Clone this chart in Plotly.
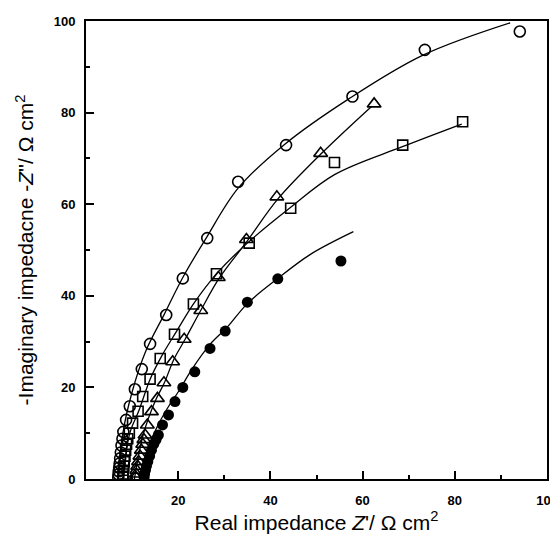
import plotly.graph_objects as go

# ---- data ----
circ_x = [7.0, 7.05, 7.1, 7.2, 7.3, 7.4, 7.55, 7.7, 7.9, 8.1, 8.7, 9.5, 10.6, 12.1, 13.9,
          17.4, 21.0, 26.3, 33.0, 43.4, 57.8, 73.5, 94.1]
circ_y = [0.4, 1.0, 1.7, 2.5, 3.4, 4.5, 5.8, 7.3, 8.8, 10.3, 12.9, 15.9, 19.6, 24.0, 29.5,
          35.8, 43.8, 52.6, 64.9, 72.9, 83.5, 93.7, 97.7]

sq_x = [8.0, 8.05, 8.1, 8.2, 8.3, 8.45, 8.6, 8.8, 9.05, 9.4, 10.1, 11.3, 12.3, 13.9, 16.1,
        19.2, 23.3, 28.3, 35.4, 44.4, 53.9, 68.7, 81.7]
sq_y = [0.4, 1.1, 1.9, 2.8, 3.8, 5.0, 6.3, 7.6, 8.8, 10.0, 12.2, 14.8, 18.0, 21.8, 26.3,
        31.6, 38.2, 44.8, 51.5, 59.1, 69.1, 72.9, 78.0]

tri_x = [10.8, 10.9, 11.0, 11.2, 11.4, 11.7, 12.0, 12.3, 12.55, 12.8, 13.3, 14.2, 15.5,
         16.9, 18.8, 21.3, 24.9, 28.7, 34.8, 41.4, 50.9, 62.5]
tri_y = [0.4, 1.1, 1.9, 2.8, 3.8, 5.0, 6.3, 7.6, 8.6, 9.6, 11.8, 14.7, 17.6,
         21.0, 25.6, 30.5, 36.8, 44.0, 52.3, 61.6, 71.1, 81.9]

fill_x = [12.6, 12.7, 12.9, 13.1, 13.4, 13.8, 14.2, 14.7, 15.2, 15.7, 16.6, 17.9, 19.3,
          21.0, 23.6, 26.9, 30.2, 35.0, 41.6, 55.3]
fill_y = [0.4, 1.1, 1.9, 2.8, 3.8, 5.0, 6.3, 7.6, 8.6, 9.6, 11.8, 14.0, 16.9,
          20.0, 23.4, 28.5, 32.3, 38.6, 43.7, 47.6]

# fitted curves
circ_fit_x = [7.0, 8.0, 10.0, 13.0, 17.0, 21.0, 26.0, 33.0, 43.0, 57.0, 73.0, 92.0]
circ_fit_y = [0.0, 10.0, 19.0, 28.0, 36.0, 44.0, 52.5, 63.5, 73.0, 83.0, 92.5, 99.6]

sq_fit_x = [8.0, 9.5, 11.5, 14.0, 16.5, 19.5, 23.5, 28.5, 35.0, 44.0, 54.0, 68.5, 81.5]
sq_fit_y = [0.0, 10.0, 15.0, 22.0, 27.0, 32.0, 38.5, 45.0, 51.5, 59.0, 66.5, 72.5, 77.5]

tri_fit_x = [10.5, 12.5, 15.0, 17.0, 19.0, 21.5, 25.0, 29.0, 35.0, 41.5, 51.0, 62.0]
tri_fit_y = [0.0, 10.0, 17.0, 21.0, 26.0, 30.5, 37.0, 44.0, 52.0, 61.0, 71.0, 81.4]

fill_fit_x = [12.5, 14.0, 16.0, 18.0, 20.0, 23.0, 27.0, 30.5, 35.0, 41.5, 48.6, 58.0]
fill_fit_y = [0.0, 8.0, 12.5, 16.0, 19.0, 24.0, 29.5, 33.0, 38.3, 43.7, 49.0, 54.0]

x_ticks = [20, 40, 60, 80, 100]
y_ticks = [0, 20, 40, 60, 80, 100]
minor_ticks = [10, 30, 50, 70, 90]

fig = go.Figure()

line_style = dict(color="black", width=1.3)
for fx, fy in [(circ_fit_x, circ_fit_y), (sq_fit_x, sq_fit_y),
               (tri_fit_x, tri_fit_y), (fill_fit_x, fill_fit_y)]:
    fig.add_trace(go.Scatter(x=fx, y=fy, mode="lines", line=line_style,
                             line_shape="spline", showlegend=False, hoverinfo="skip"))

fig.add_trace(go.Scatter(x=circ_x, y=circ_y, mode="markers", showlegend=False,
                         marker=dict(symbol="circle-open", size=11,
                                     line=dict(color="black", width=1.6), color="black")))
fig.add_trace(go.Scatter(x=sq_x, y=sq_y, mode="markers", showlegend=False,
                         marker=dict(symbol="square-open", size=10,
                                     line=dict(color="black", width=1.6), color="black")))
fig.add_trace(go.Scatter(x=tri_x, y=tri_y, mode="markers", showlegend=False,
                         marker=dict(symbol="triangle-up-open", size=12,
                                     line=dict(color="black", width=1.6), color="black")))
fig.add_trace(go.Scatter(x=fill_x, y=fill_y, mode="markers", showlegend=False,
                         marker=dict(symbol="circle", size=11, color="black",
                                     line=dict(color="black", width=0))))

tick_font = dict(family="Liberation Sans, Arial", size=13, color="black", weight="bold")
title_font = dict(family="Liberation Sans, Arial", size=21, color="black")

# the page body adds an 8px margin, so the figure is sized to fit the 558x541 window
fig.update_layout(
    width=550, height=533,
    margin=dict(l=78, r=11, t=13, b=62, autoexpand=False),
    paper_bgcolor="white", plot_bgcolor="white",
    xaxis=dict(range=[0, 100], tickvals=x_ticks, ticktext=[str(v) for v in x_ticks],
               ticks="inside", ticklen=8, tickwidth=1.5, tickcolor="black",
               minor=dict(tickvals=minor_ticks, ticks="inside", ticklen=4,
                          tickwidth=1.5, tickcolor="black"),
               showline=True, linecolor="black", linewidth=2, mirror=True,
               showgrid=False, zeroline=False, tickfont=tick_font,
               ticklabelstandoff=8,
               title=dict(text="Real impedance <i>Z</i>'/ Ω cm<sup>2</sup>",
                          font=title_font, standoff=9)),
    yaxis=dict(range=[0, 100], tickvals=y_ticks, ticktext=[str(v) for v in y_ticks],
               ticks="inside", ticklen=8, tickwidth=1.5, tickcolor="black",
               minor=dict(tickvals=minor_ticks, ticks="inside", ticklen=4,
                          tickwidth=1.5, tickcolor="black"),
               showline=True, linecolor="black", linewidth=2, mirror=True,
               showgrid=False, zeroline=False, tickfont=tick_font,
               ticklabelstandoff=6,
               title=dict(text="-Imaginary impedacne -<i>Z</i>''/ Ω cm<sup>2</sup>",
                          font=title_font, standoff=14)),
)

fig.write_html("out.html")
